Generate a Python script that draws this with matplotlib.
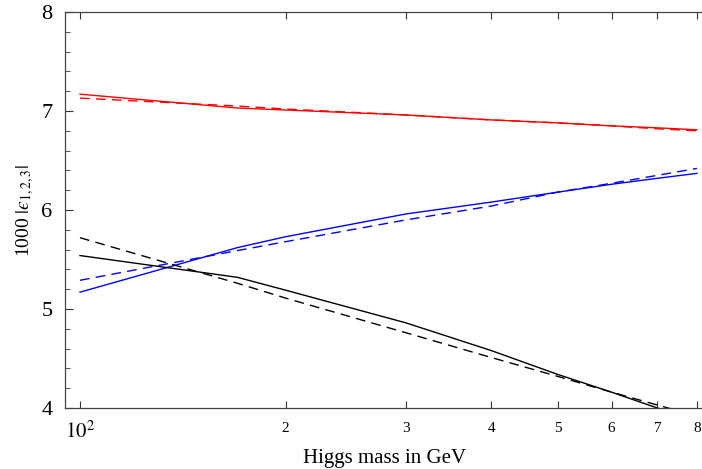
import matplotlib
matplotlib.use("Agg")
import matplotlib.pyplot as plt
from matplotlib.ticker import FixedLocator, MultipleLocator, NullLocator

plt.rcParams['font.family'] = ['Liberation Serif', 'DejaVu Serif']
plt.rcParams['mathtext.fontset'] = 'stix'

mass = [100, 170, 200, 300, 400, 500, 600, 700, 800]
red_solid = [7.17, 7.03, 7.01, 6.96, 6.91, 6.88, 6.85, 6.83, 6.81]
red_dashed = [7.13, 7.05, 7.02, 6.96, 6.91, 6.88, 6.85, 6.82, 6.80]
blue_solid = [5.17, 5.62, 5.73, 5.96, 6.08, 6.18, 6.26, 6.32, 6.37]
blue_dashed = [5.29, 5.59, 5.68, 5.90, 6.04, 6.18, 6.27, 6.35, 6.42]
black_solid = [5.54, 5.32, 5.19, 4.86, 4.58, 4.34, 4.16, 4.00, 3.87]
black_dashed = [5.72, 5.26, 5.11, 4.76, 4.51, 4.32, 4.16, 4.03, 3.92]

xtick_vals = [100, 200, 300, 400, 500, 600, 700, 800]
xtick_labels = [r'$10^2$', '2', '3', '4', '5', '6', '7', '8']
ytick_vals = [4, 5, 6, 7, 8]

W, H = 702, 469
fig = plt.figure(figsize=(W / 100, H / 100), dpi=100)
ax = fig.add_axes([65 / W, (H - 408) / H, 640 / W, 396 / H])

lw = 1.0
dash = (7, 4.5)
ax.plot(mass, red_solid, color='#ff0000', lw=lw)
ax.plot(mass, red_dashed, color='#ff0000', lw=lw, dashes=dash)
ax.plot(mass, blue_solid, color='#0000ff', lw=lw)
ax.plot(mass, blue_dashed, color='#0000ff', lw=lw, dashes=dash)
ax.plot(mass, black_solid, color='black', lw=lw)
ax.plot(mass, black_dashed, color='black', lw=lw, dashes=dash)

ax.set_xscale('log')
ax.set_xlim(95.07, 822)
ax.set_ylim(4, 8)

ax.xaxis.set_major_locator(FixedLocator(xtick_vals))
ax.xaxis.set_minor_locator(NullLocator())
ax.set_xticklabels(xtick_labels)
ax.yaxis.set_major_locator(FixedLocator(ytick_vals))
ax.yaxis.set_minor_locator(MultipleLocator(0.2))

ax.tick_params(axis='x', which='major', direction='in', length=5, width=0.8,
               top=True, bottom=True, labelsize=11, pad=10, color='#333333')
ax.tick_params(axis='y', which='major', direction='in', length=6, width=0.8,
               right=False, labelsize=16, pad=9, color='#333333')
ax.tick_params(axis='y', which='minor', direction='in', length=3.5, width=0.6,
               right=False, color='#333333')
for lab in ax.get_xticklabels():
    if lab.get_text() == r'$10^2$':
        lab.set_fontsize(15)

for s in ax.spines.values():
    s.set_linewidth(0.9)
    s.set_color('#444444')

ax.set_xlabel('Higgs mass in GeV', fontsize=15, labelpad=4)
ax.set_ylabel('1000 $|\u03f5_{1,2,3}|$', fontsize=14, labelpad=4)

fig.savefig('out.png', dpi=100)
